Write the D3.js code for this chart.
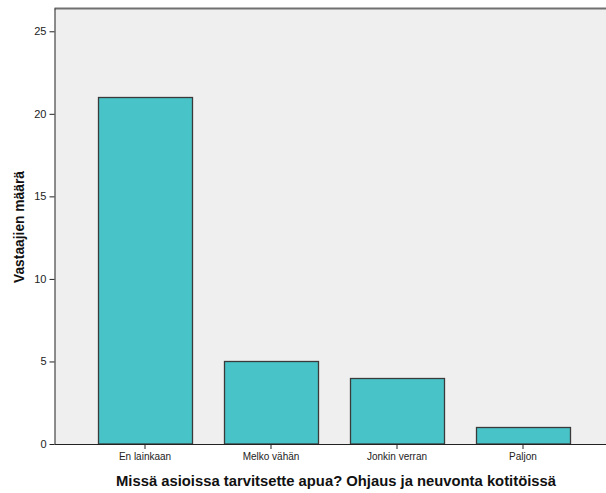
<!DOCTYPE html>
<html><head><meta charset="utf-8">
<script src="https://cdn.jsdelivr.net/npm/d3@7/dist/d3.min.js"></script>
<style>body{margin:0;background:#fff}svg{display:block}text{font-family:Arial,"Liberation Sans",sans-serif}</style>
</head><body><svg id="c" width="606" height="493"></svg>
<script>
const categories = ["En lainkaan", "Melko vähän", "Jonkin verran", "Paljon"];
const counts = [21, 5, 4, 1];
const yTicks = [0, 5, 10, 15, 20, 25];
const xTitle = "Missä asioissa tarvitsette apua? Ohjaus ja neuvonta kotitöissä";
const yTitle = "Vastaajien määrä";

const svg = d3.select("#c");
const L = 54.5, R = 606, T = 8.5, B = 444;
const y = d3.scaleLinear().domain([0, 26.38]).range([B, T]);
const x = d3.scaleBand().domain(categories).range([82, 586]).paddingInner(0.254).paddingOuter(0.127);

svg.append("rect").attr("x", L).attr("y", T).attr("width", R - L).attr("height", B - T).attr("fill", "#efefef");
svg.append("line").attr("x1", L).attr("x2", R).attr("y1", T).attr("y2", T).attr("stroke", "#707070").attr("stroke-width", 2);

svg.selectAll("rect.bar").data(counts).join("rect").attr("class", "bar")
  .attr("x", (d, i) => Math.round(x(categories[i])) + 0.5)
  .attr("y", d => Math.round(y(d)) + 0.5)
  .attr("width", x.bandwidth())
  .attr("height", d => B - Math.round(y(d)) - 0.5)
  .attr("fill", "#48c4c8").attr("stroke", "#3a3a3a").attr("stroke-width", 1.3);

const ya = svg.append("g").attr("transform", `translate(${L},0)`)
  .call(d3.axisLeft(y).tickValues(yTicks).tickSize(5).tickPadding(3));
ya.selectAll("text").attr("font-size", 11).attr("fill", "#222");
ya.select(".domain").attr("d", `M0.5,${T}V${B}`).attr("stroke", "#222");
ya.selectAll(".tick line").attr("stroke", "#222");

const xa = svg.append("g").attr("transform", `translate(0,${B})`)
  .call(d3.axisBottom(x).tickSize(5).tickPadding(4));
xa.select(".domain").attr("d", `M${L},0.5H${R}`).attr("stroke", "#222");
xa.selectAll("text").attr("font-size", 10).attr("fill", "#222");
xa.selectAll(".tick line").attr("stroke", "#222");

svg.append("text").attr("x", 336).attr("y", 486).attr("text-anchor", "middle")
  .attr("font-size", 14.8).attr("font-weight", "bold").attr("fill", "#111").text(xTitle);
svg.append("text").attr("transform", "translate(24,227) rotate(-90)").attr("text-anchor", "middle")
  .attr("font-size", 13.8).attr("font-weight", "bold").attr("fill", "#111").text(yTitle);
</script></body></html>
